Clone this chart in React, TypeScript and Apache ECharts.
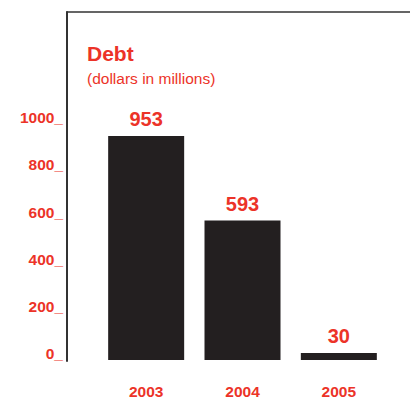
import React, { useEffect, useRef } from "react";
import * as echarts from "echarts";

const years = ["2003", "2004", "2005"];
const debt = [953, 593, 30];
const yMax = 1480;
const yInterval = 200;
const yLabelMax = 1000;

const RED = "#ec3328";
const BAR = "#231f20";
const AXIS = "#333333";
const FONT = "'Liberation Sans', Arial, sans-serif";

export default function App() {
  const ref = useRef<HTMLDivElement>(null);
  useEffect(() => {
    if (!ref.current) return;
    const chart = echarts.init(ref.current, undefined, { renderer: "svg" });
    chart.setOption({
      animation: false,
      backgroundColor: "#ffffff",
      textStyle: { fontFamily: FONT },
      title: {
        text: "Debt",
        subtext: "(dollars in millions)",
        left: 82,
        top: 38,
        itemGap: 6,
        textStyle: { color: RED, fontSize: 21, fontWeight: "bold", fontFamily: FONT },
        subtextStyle: { color: RED, fontSize: 15.5, fontFamily: FONT },
      },
      grid: [
        { left: 67, right: 0, top: 12, bottom: 38 },
        { left: 98, right: 23, top: 12, bottom: 38 },
      ],
      xAxis: [
        {
          gridIndex: 0,
          type: "category",
          position: "top",
          data: years,
          axisLine: { show: true, onZero: false, lineStyle: { color: AXIS, width: 1.5 } },
          axisTick: { show: false },
          axisLabel: { show: false },
        },
        {
          gridIndex: 1,
          type: "category",
          data: years,
          axisLine: { show: false, onZero: false },
          axisTick: { show: false },
          axisLabel: {
            color: RED,
            fontSize: 15.5,
            fontWeight: "bold",
            fontFamily: FONT,
            margin: 23,
          },
        },
      ],
      yAxis: [
        {
          gridIndex: 0,
          type: "value",
          min: 0,
          max: yMax,
          interval: yInterval,
          splitLine: { show: false },
          axisTick: { show: false },
          axisLine: { show: true, lineStyle: { color: AXIS, width: 2 } },
          axisLabel: {
            showMaxLabel: false,
            color: RED,
            fontSize: 15.5,
            fontWeight: "bold",
            fontFamily: FONT,
            margin: 4,
            verticalAlign: "bottom",
            lineHeight: 15,
            formatter: (v: number) => (v <= yLabelMax ? `${v}_` : ""),
          },
        },
        {
          gridIndex: 1,
          type: "value",
          min: 0,
          max: yMax,
          interval: yInterval,
          show: false,
          splitLine: { show: false },
        },
      ],
      series: [
        {
          type: "bar",
          xAxisIndex: 1,
          yAxisIndex: 1,
          data: debt,
          barWidth: 76,
          itemStyle: { color: BAR },
          label: {
            show: true,
            position: "top",
            distance: 7,
            color: RED,
            fontSize: 20,
            fontWeight: "bold",
            fontFamily: FONT,
          },
        },
      ],
    });
    return () => chart.dispose();
  }, []);
  return <div ref={ref} style={{ width: 410, height: 399, position: "absolute", left: 0, top: 0 }} />;
}
